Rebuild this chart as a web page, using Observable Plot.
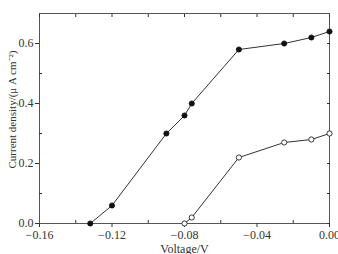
<!DOCTYPE html>
<html><head><meta charset="utf-8">
<script src="https://cdn.jsdelivr.net/npm/d3@7"></script>
<script src="https://cdn.jsdelivr.net/npm/@observablehq/plot@0.6"></script>
<style>body{margin:0;background:#fff}</style>
</head><body><div id="c"></div>
<script>
const voltageA = [-0.132, -0.120, -0.090, -0.080, -0.076, -0.050, -0.025, -0.010, 0.000];
const currentA = [0.00, 0.06, 0.30, 0.36, 0.40, 0.58, 0.60, 0.62, 0.64];
const voltageB = [-0.080, -0.076, -0.050, -0.025, -0.010, 0.000];
const currentB = [0.00, 0.02, 0.22, 0.27, 0.28, 0.30];
const xTicks = [-0.16, -0.12, -0.08, -0.04, 0];
const xMinor = [-0.14, -0.10, -0.06, -0.02];
const yTicks = [0, 0.2, 0.4, 0.6];
const yMinor = [0.1, 0.3, 0.5];

const A = voltageA.map((v, i) => ({v, c: currentA[i]}));
const B = voltageB.map((v, i) => ({v, c: currentB[i]}));
const col = "#333";
const font = "'Liberation Serif', 'Times New Roman', serif";

const chart = Plot.plot({
  width: 338, height: 254,
  marginLeft: 39, marginRight: 9, marginTop: 13, marginBottom: 31,
  style: {fontFamily: font, fontSize: "12px", color: "#333", overflow: "visible"},
  x: {domain: [-0.16, 0]},
  y: {domain: [0, 0.7]},
  marks: [
    Plot.frame({stroke: "#555", strokeWidth: 1}),
    Plot.axisX({ticks: xTicks, tickFormat: d3.format(".2f"), tickSize: 4, tickPadding: 3, label: null}),
    Plot.text(["Voltage/V"], {frameAnchor: "bottom", dy: 29, fontSize: 12, fill: "#333"}),
    Plot.axisX({ticks: xMinor, tickSize: -3, text: null, label: null}),
    Plot.axisX({anchor: "top", ticks: xTicks.concat(xMinor), tickSize: -3, text: null, label: null}),
    Plot.axisY({ticks: yTicks, tickFormat: d3.format(".1f"), tickSize: 4, tickPadding: 2, label: null}),
    Plot.text(["Current density/(μ A cm⁻²)"], {frameAnchor: "left", textAnchor: "middle", lineAnchor: "middle", dx: -27, dy: -9, rotate: -90, fontSize: 11, fill: "#333"}),
    Plot.axisY({ticks: yMinor, tickSize: -3, text: null, label: null}),
    Plot.axisY({anchor: "right", ticks: yTicks.concat(yMinor), tickSize: -3, text: null, label: null}),
    Plot.line(A, {x: "v", y: "c", stroke: col, strokeWidth: 1}),
    Plot.line(B, {x: "v", y: "c", stroke: col, strokeWidth: 1}),
    Plot.dot(A, {x: "v", y: "c", r: 2.6, fill: "#111", stroke: "#111", strokeWidth: 0.8}),
    Plot.dot(B, {x: "v", y: "c", r: 2.6, fill: "#fff", stroke: "#222", strokeWidth: 0.9})
  ]
});
document.getElementById("c").appendChild(chart);
</script></body></html>
